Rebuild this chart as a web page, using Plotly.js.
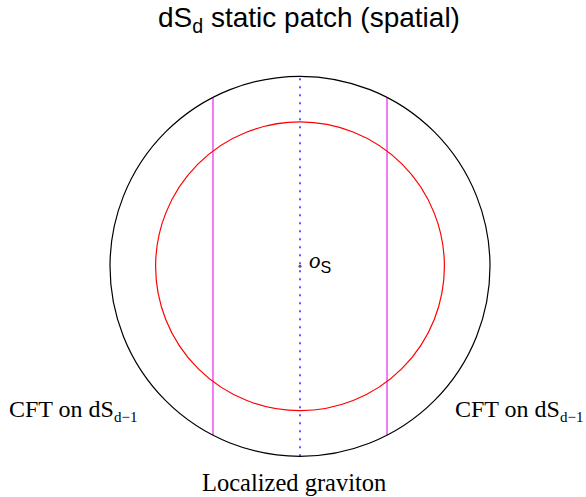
<!DOCTYPE html>
<html>
<head>
<meta charset="utf-8">
<script src="https://cdn.plot.ly/plotly-3.0.1.min.js"></script>
<style>html,body{margin:0;padding:0;background:#fff;}#chart{width:586px;height:497px;}</style>
</head>
<body>
<div id="chart"></div>
<script>
// Data (in units of the outer static-patch radius)
const circleNames = ["horizon", "brane circle"];
const circleRadii = [1.0, 0.76];
const braneX = [-0.458, 0.458];
const centerPoint = [0, 0];
const labels = ["CFT on dS<sub><span style=\"font-size:15px\">d−1</span></sub>",
                "CFT on dS<sub><span style=\"font-size:15px\">d−1</span></sub>",
                "Localized graviton"];
const titleText = "dS<sub>d</sub> static patch (spatial)";

const outerR = circleRadii[0];
const traces = [];

// magenta brane lines spanning the outer circle
braneX.forEach(function (bx) {
  const h = Math.sqrt(outerR * outerR - bx * bx);
  traces.push({
    type: "scatter", mode: "lines", x: [bx, bx], y: [-h, h],
    line: {color: "#ee33ee", width: 1.3}, hoverinfo: "skip", showlegend: false
  });
});
// blue dotted central line
traces.push({
  type: "scatter", mode: "lines", x: [centerPoint[0], centerPoint[0]], y: [-outerR, outerR],
  line: {color: "#5a5aff", width: 2, dash: "2px,6px"}, hoverinfo: "skip", showlegend: false
});
// centre point
traces.push({
  type: "scatter", mode: "markers", x: [centerPoint[0]], y: [centerPoint[1]],
  marker: {color: "#555", size: 3}, hoverinfo: "skip", showlegend: false
});

const circleColors = ["#000000", "#ff0000"];
const shapes = circleRadii.map(function (r, i) {
  return {
    type: "circle", xref: "x", yref: "y",
    x0: centerPoint[0] - r, x1: centerPoint[0] + r,
    y0: centerPoint[1] - r, y1: centerPoint[1] + r,
    line: {color: circleColors[i], width: 1.2}, layer: "above"
  };
});

const U = 190; // px per unit
const cx = 300, cy = 266.3;
const serif = "Liberation Serif, Times New Roman, serif";
const layout = {
  width: 586, height: 497, autosize: false,
  margin: {l: 0, r: 0, t: 0, b: 0, pad: 0},
  paper_bgcolor: "#fff", plot_bgcolor: "#fff",
  showlegend: false,
  xaxis: {range: [-cx / U, (586 - cx) / U], visible: false, fixedrange: true},
  yaxis: {range: [(cy - 497) / U, cy / U], visible: false, fixedrange: true},
  shapes: shapes,
  annotations: [
    {xref: "paper", yref: "paper", x: 0.528, y: 1, yanchor: "top", xanchor: "center",
     text: titleText, showarrow: false,
     font: {family: "Liberation Sans, Arial, sans-serif", size: 28, color: "#000"}},
    {xref: "x", yref: "y", x: centerPoint[0] + 0.035, y: centerPoint[1] + 0.025, xanchor: "left", yanchor: "middle",
     text: "<i><span style=\"font-family:'Liberation Serif'\">o</span></i><sub>S</sub>", showarrow: false,
     font: {family: "Liberation Sans, Arial, sans-serif", size: 23, color: "#000"}},
    {xref: "paper", yref: "paper", x: 7 / 586, y: 1 - 415 / 497, xanchor: "left", yanchor: "bottom", yshift: -12,
     text: labels[0], showarrow: false,
     font: {family: serif, size: 24, color: "#000"}},
    {xref: "paper", yref: "paper", x: 453 / 586, y: 1 - 415 / 497, xanchor: "left", yanchor: "bottom", yshift: -12,
     text: labels[1], showarrow: false,
     font: {family: serif, size: 24, color: "#000"}},
    {xref: "x", yref: "paper", x: centerPoint[0], y: 1 - 493 / 497, xanchor: "center", yanchor: "bottom",
     yshift: -5, xshift: -6,
     text: labels[2], showarrow: false,
     font: {family: serif, size: 24.5, color: "#000"}}
  ]
};

Plotly.newPlot("chart", traces, layout, {displayModeBar: false, staticPlot: true});
</script>
</body>
</html>
